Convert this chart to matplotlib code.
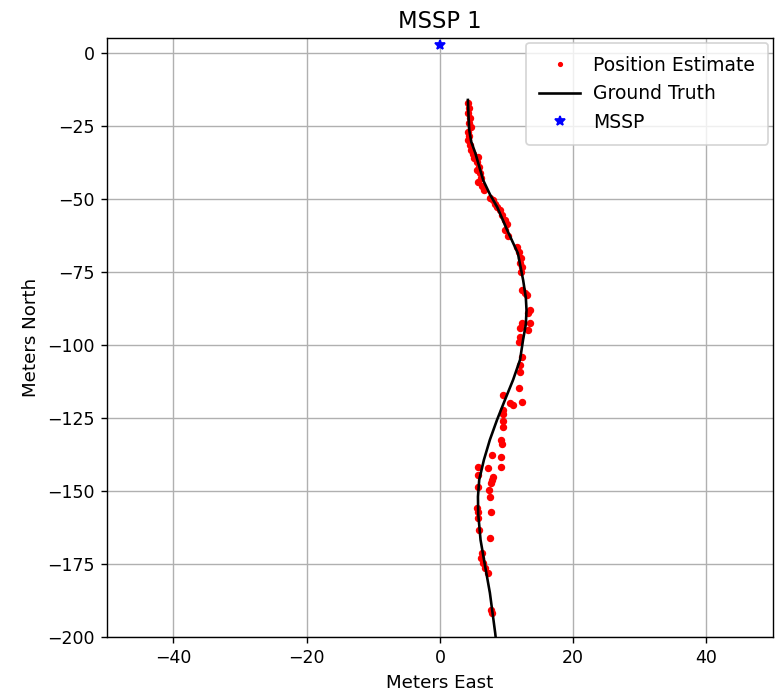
import matplotlib
matplotlib.use("Agg")
import matplotlib.pyplot as plt

# Estimated positions (meters east, meters north), ten per row
est_east = [4.21, 4.36, 4.21, 4.51, 4.36, 4.66, 4.21, 4.36, 4.21, 4.51,
            4.66, 4.96, 5.11, 5.71, 5.56, 5.86, 5.56, 6.02, 6.17, 5.71,
            6.32, 6.62, 7.52, 7.97, 8.27, 8.57, 9.02, 9.32, 9.77, 10.08,
            9.77, 10.23, 11.58, 11.88, 12.18, 12.03, 12.33, 12.18, 12.33, 13.08,
            12.78, 13.53, 13.23, 12.33, 13.53, 13.23, 12.03, 12.03, 11.88, 12.33,
            12.03, 12.03, 11.88, 9.47, 10.53, 12.33, 10.98, 9.47, 9.47, 9.47,
            9.47, 9.17, 9.32, 7.82, 9.17, 5.71, 5.71, 7.22, 9.17, 7.97,
            7.82, 7.67, 5.71, 7.37, 7.52, 5.56, 5.71, 7.67, 5.71, 5.86,
            7.52, 6.32, 6.17, 6.47, 6.77, 7.22, 7.67, 7.82]
est_north = [-17.2, -18.9, -20.6, -22.4, -24.1, -25.4, -27.2, -28.5, -29.9, -31.6,
             -33.3, -34.7, -36.1, -35.7, -37.4, -39.1, -40.2, -41.2, -42.9, -44.3,
             -45.7, -47.0, -49.8, -50.4, -51.8, -52.9, -53.9, -55.6, -57.3, -58.7,
             -60.7, -62.8, -66.5, -68.3, -70.3, -72.0, -73.4, -75.1, -81.3, -83.0,
             -82.3, -88.1, -89.1, -92.6, -92.6, -95.0, -94.3, -97.4, -99.1, -104.2,
             -106.9, -109.4, -114.8, -117.2, -120.0, -119.6, -120.7, -122.4, -123.7, -126.1,
             -128.2, -132.6, -133.9, -137.8, -138.5, -141.9, -144.6, -142.2, -141.9, -145.3,
             -146.3, -147.4, -148.8, -149.8, -152.1, -155.9, -157.3, -157.3, -159.4, -163.5,
             -166.2, -171.3, -173.0, -174.8, -176.5, -178.2, -190.9, -191.9]

# Ground truth track
truth_east = [4.2, 4.3, 4.4, 4.7, 5.3, 6.5, 7.5, 8.6, 10.1, 11.7,
              12.5, 12.9, 13.0, 12.9, 12.48, 12.03, 10.98, 9.77, 8.57, 7.5,
              6.6, 5.9, 5.71, 5.75, 6.1, 6.8, 7.5, 8.3, 8.5]
truth_north = [-16.2, -22.0, -26.5, -30.5, -34.3, -43.7, -48.5, -52.9, -60.8, -68.7,
               -78.0, -84.0, -88.2, -93.0, -98.4, -105.2, -112.1, -118.9, -125.8, -132.6,
               -139.5, -146.3, -152.1, -158.0, -166.9, -176.1, -185.0, -198.8, -203.0]

# Sensor location
mssp_east = [0.0]
mssp_north = [2.6]

x_ticks = [-40, -20, 0, 20, 40]
y_ticks = [0, -25, -50, -75, -100, -125, -150, -175, -200]

dpi = 125
fig = plt.figure(figsize=(780 / dpi, 698 / dpi), dpi=dpi)
fig.subplots_adjust(left=0.137, right=0.991, bottom=0.088, top=0.9455)
ax = fig.add_subplot(111)

ax.plot(est_east, est_north, 'r.', markersize=6.5, label='Position Estimate')
ax.plot(truth_east, truth_north, 'k-', label='Ground Truth')
ax.plot(mssp_east, mssp_north, 'b*', label='MSSP')

ax.set_xlim(-50, 50)
ax.set_ylim(-200, 5)
ax.set_xticks(x_ticks)
ax.set_yticks(y_ticks)
ax.grid(True)
ax.set_title('MSSP 1', fontsize=13)
ax.set_xlabel('Meters East', fontsize=10.5)
ax.set_ylabel('Meters North', fontsize=10.5)
leg = ax.legend(loc='upper right', fontsize=10.8, borderaxespad=0.25, borderpad=0.7,
                handlelength=2.2, handletextpad=0.7)
# smaller dot in the legend key, star kept at full size
leg.legend_handles[0].set_markersize(4)

fig.savefig('out.png', dpi=dpi)
